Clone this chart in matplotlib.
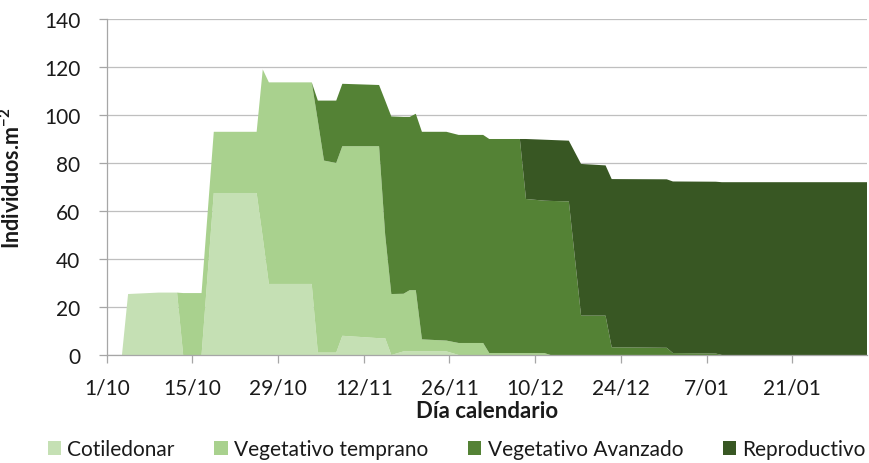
import matplotlib
matplotlib.use("Agg")
import matplotlib.pyplot as plt
from matplotlib.patches import Patch
import numpy as np

# Densidad de individuos por estado fenológico (individuos/m2)
# dias: días contados desde el 1/10
dias = [0, 2, 3, 8, 11, 12, 15, 17, 24, 25, 26, 33, 34, 35, 37, 38, 44, 45, 46,
        48, 49, 50, 51, 55, 57, 61, 62, 67, 68, 71, 72, 75, 77, 81, 82, 91, 92,
        99, 100, 124]

cotiledonar = [0, 0, 25.4, 26, 26, 0, 0, 67.5, 67.5, 49, 29.6, 29.6, 1, 1, 1,
               8, 7, 7, 0, 1.5, 1.5, 1.5, 1.5, 1.5, 0, 0, 0, 0, 0, 0, 0, 0, 0,
               0, 0, 0, 0, 0, 0, 0]

veg_temprano = [0, 0, 0, 0, 0, 25.8, 25.8, 25.5, 25.5, 70, 84, 84, 96.5, 80,
                79, 79, 80, 43, 25.4, 24, 25.5, 25.5, 5, 4.5, 5, 5, 0.8, 0.8,
                0.8, 0.8, 0, 0, 0, 0, 0, 0, 0, 0, 0, 0]

veg_avanzado = [0, 0, 0, 0, 0, 0, 0, 0, 0, 0, 0, 0, 8.5, 25, 26, 26, 25.5, 56,
                74, 73.7, 72.2, 73.5, 86.5, 87, 86.7, 86.7, 89.2, 89.2, 64.2,
                63.5, 64.2, 64, 16.4, 16.4, 3.2, 3, 0.8, 0.6, 0, 0]

reproductivo = [0, 0, 0, 0, 0, 0, 0, 0, 0, 0, 0, 0, 0, 0, 0, 0, 0, 0, 0, 0, 0,
                0, 0, 0, 0, 0, 0, 0, 25, 25.4, 25.4, 25.3, 63.2, 62.6, 70.1,
                70.2, 71.5, 71.6, 72, 72]

series = ["Cotiledonar", "Vegetativo temprano", "Vegetativo Avanzado", "Reproductivo"]
colores = ["#C5E0B4", "#A9D18E", "#548235", "#385723"]

ticks_dias = [0, 14, 28, 42, 56, 70, 84, 98, 112]
ticks_fechas = ["1/10", "15/10", "29/10", "12/11", "26/11", "10/12", "24/12", "7/01", "21/01"]

plt.rcParams["font.family"] = ["Lato", "DejaVu Sans"]
plt.rcParams["mathtext.fontset"] = "custom"
plt.rcParams["mathtext.rm"] = "Lato"
plt.rcParams["mathtext.bf"] = "Lato:bold"
plt.rcParams["mathtext.default"] = "regular"

gris_grid = "#BFBFBF"
gris_eje = "#A6A6A6"

fig = plt.figure(figsize=(8.7, 4.64), dpi=100)
ax = fig.add_axes([0.1226, 0.2328, 0.8739, 0.7241])

# cada fecha se ubica en el centro de su día
x = np.array(dias) + 0.5
ax.stackplot(x, cotiledonar, veg_temprano, veg_avanzado, reproductivo,
             colors=colores, linewidth=0, zorder=2)

ax.set_xlim(0, 124.2)
ax.set_ylim(0, 140)
ax.set_yticks(range(0, 141, 20))
ax.set_xticks(ticks_dias)
ax.set_xticklabels(ticks_fechas)

ax.grid(axis="y", color=gris_grid, linewidth=0.9, zorder=0)
ax.set_axisbelow(True)
for lado in ["top", "right"]:
    ax.spines[lado].set_visible(False)
for lado in ["left", "bottom"]:
    ax.spines[lado].set_color(gris_eje)
    ax.spines[lado].set_linewidth(0.9)
    ax.spines[lado].set_zorder(3)

ax.tick_params(axis="both", colors=gris_eje, length=6, width=0.9,
               labelsize=15, labelcolor="#1a1a1a")
ax.tick_params(axis="y", pad=13)
ax.tick_params(axis="x", pad=10)

ax.set_xlabel("Día calendario", fontsize=16, fontweight="bold", color="#1a1a1a")
ax.xaxis.set_label_coords(0.5, -0.135)
ax.set_ylabel("Individuos.m$^{-2}$", fontsize=15.5, fontweight="bold", color="#1a1a1a")
ax.yaxis.set_label_coords(-0.109, 0.53)

handles = [Patch(facecolor=c, edgecolor="none") for c in colores]
fig.legend(handles, series, loc="center", bbox_to_anchor=(0.525, 0.03), ncol=4,
           frameon=False, fontsize=15, handlelength=0.65, handleheight=0.65,
           handletextpad=0.3, columnspacing=1.9, labelcolor="#1a1a1a")

fig.savefig("out.png", dpi=100)
